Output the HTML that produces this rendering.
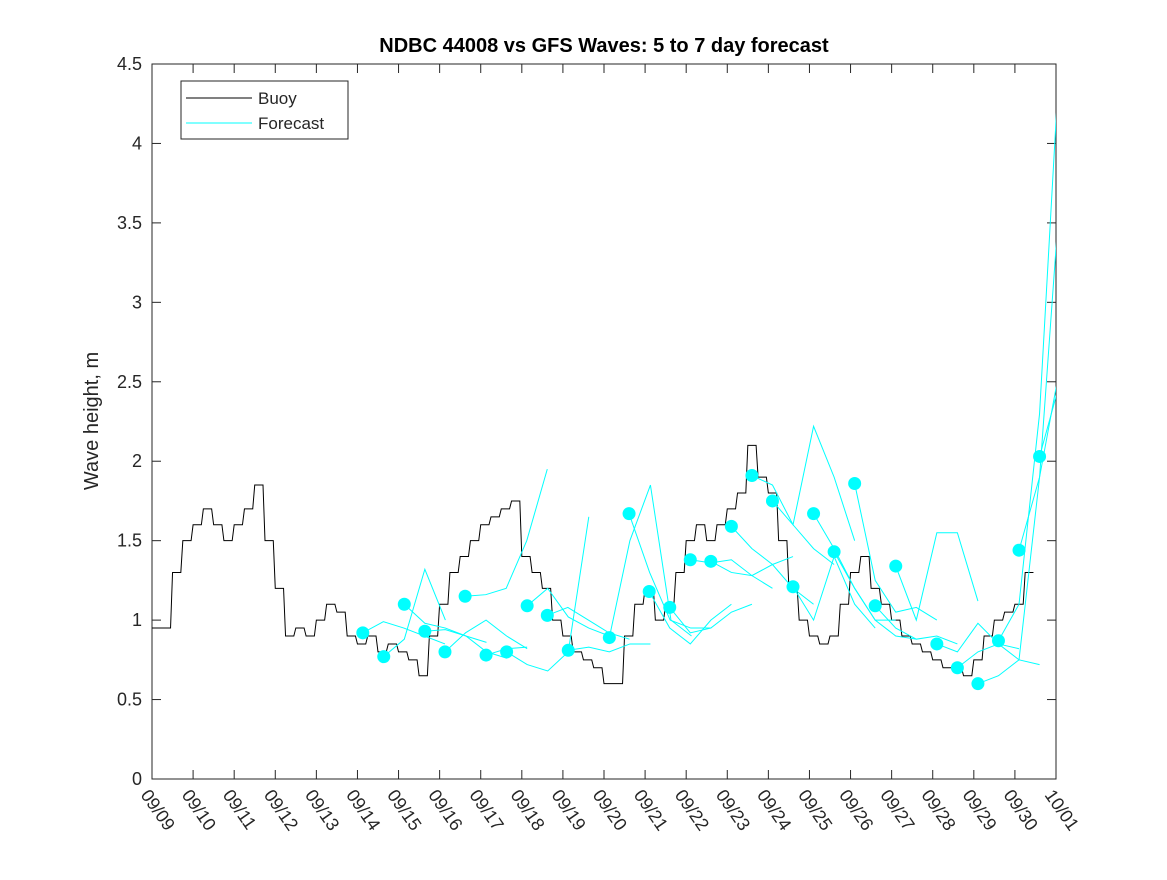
<!DOCTYPE html>
<html><head><meta charset="utf-8"><style>
body{margin:0;background:#fff}
svg text{font-family:"Liberation Sans",sans-serif;fill:#262626}
</style></head><body>
<svg id="chart" width="1167" height="875" xmlns="http://www.w3.org/2000/svg">
<rect width="1167" height="875" fill="#fff"/>
<defs><clipPath id="clip"><rect x="152" y="64" width="904" height="715"/></clipPath></defs>
<text x="604" y="52" text-anchor="middle" font-size="20" font-weight="bold" style="fill:#000">NDBC 44008 vs GFS Waves: 5 to 7 day forecast</text>
<text transform="translate(98,421) rotate(-90)" text-anchor="middle" font-size="20">Wave height, m</text>
<g id="axes"></g>
<g id="plot" clip-path="url(#clip)"></g>
<g>
<rect x="181" y="81" width="167" height="58" fill="#fff" stroke="#262626" stroke-width="1"/>
<line x1="186" y1="98" x2="252" y2="98" stroke="#000"/>
<text x="258" y="104" font-size="17">Buoy</text>
<line x1="186" y1="123" x2="252" y2="123" stroke="#00ffff"/>
<text x="258" y="129" font-size="17">Forecast</text>
</g>
</svg>
<script>
const xTickLabels=["09/09","09/10","09/11","09/12","09/13","09/14","09/15","09/16","09/17","09/18","09/19","09/20","09/21","09/22","09/23","09/24","09/25","09/26","09/27","09/28","09/29","09/30","10/01"];
const yTicks=[0,0.5,1,1.5,2,2.5,3,3.5,4,4.5];
// buoy, 6-hourly from 09/09 00:00
const buoy=[0.95,0.95,1.3,1.5, 1.6,1.7,1.6,1.5, 1.6,1.7,1.85,1.5, 1.2,0.9,0.95,0.9, 1.0,1.1,1.05,0.9,
0.85,0.9,0.8,0.85, 0.8,0.75,0.65,0.9, 1.1,1.3,1.4,1.5, 1.6,1.65,1.7,1.75, 1.4,1.3,1.2,1.0,
0.9,0.8,0.75,0.7, 0.6,0.6,0.9,1.1, 1.2,1.0,1.1,1.3, 1.5,1.6,1.5,1.6, 1.7,1.8,2.1,1.9,
1.8,1.5,1.2,1.0, 0.9,0.85,0.9,1.1, 1.3,1.4,1.2,1.1, 1.0,0.9,0.85,0.8, 0.75,0.7,0.7,0.65,
0.75,0.9,1.0,1.05, 1.1,1.3];
const fcStart=[5.13,5.64,6.14,6.64,7.13,7.62,8.13,8.63,9.13,9.62,10.13,11.13,11.61,12.1,12.6,13.1,13.6,14.1,14.6,15.1,15.6,16.1,16.6,17.1,17.6,18.1,19.1,19.6,20.1,20.6,21.1,21.6];
const fcValues=[[0.92,0.99,0.95,0.9,0.85],[0.77,0.88,1.32,1.0],[1.10,0.98,0.95,0.9,0.86],[0.93,0.94,0.9,0.8,0.76],[0.80,0.92,1.0,0.9,0.82],[1.15,1.16,1.2,1.5,1.95],[0.78,0.82,0.83],[0.80,0.72,0.68,0.8,1.65],[1.09,1.2,1.02,0.95,0.9],[1.03,1.08,1.0,0.92,0.88],[0.81,0.83,0.8,0.85,0.85],[0.89,1.5,1.85,1.0,0.9],[1.67,1.3,1.0,0.95,0.95],[1.18,0.95,0.85,1.0,1.1],[1.08,0.92,0.95,1.05,1.1],[1.38,1.36,1.38,1.28,1.2],[1.37,1.3,1.28,1.35,1.4],[1.59,1.45,1.35,1.2,1.1],[1.91,1.85,1.6,1.45,1.35],[1.75,1.6,2.22,1.9,1.5],[1.21,1.0,1.4,1.1,0.95],[1.67,1.45,1.2,1.0,1.0],[1.43,1.2,1.0,0.9,0.88],[1.86,1.25,1.05,1.08,1.0],[1.09,0.95,0.88,0.9,0.85],[1.34,1.0,1.55,1.55,1.12],[0.85,0.8,0.98,0.85,0.82],[0.70,0.8,0.85,0.75,0.72],[0.60,0.65,0.75,1.9,3.7],[0.87,1.1,2.3,4.6],[1.44,1.9,2.6],[2.03,2.5]];
const NS="http://www.w3.org/2000/svg";
const X0=152,X1=1056,Y0=779,Y1=64;
const xs=d=>X0+d*(X1-X0)/22, ys=v=>Y0-v*(Y0-Y1)/4.5;
function mk(t,a,p){const e=document.createElementNS(NS,t);for(const k in a)e.setAttribute(k,a[k]);p.appendChild(e);return e;}
const axes=document.getElementById('axes'),plot=document.getElementById('plot');
const frame=mk('rect',{x:X0,y:Y1,width:X1-X0,height:Y0-Y1,fill:'none',stroke:'#262626','stroke-width':1},axes);


yTicks.forEach(v=>{const y=ys(v);
mk('line',{x1:X0,y1:y,x2:X0+9,y2:y,stroke:'#262626'},axes);mk('line',{x1:X1,y1:y,x2:X1-9,y2:y,stroke:'#262626'},axes);
const t=mk('text',{x:X0-10,y:y+6,'text-anchor':'end','font-size':18},axes);t.textContent=String(v);

});
xTickLabels.forEach((s,i)=>{const x=xs(i);
mk('line',{x1:x,y1:Y0,x2:x,y2:Y0-9,stroke:'#262626'},axes);mk('line',{x1:x,y1:Y1,x2:x,y2:Y1+9,stroke:'#262626'},axes);
const t=mk('text',{transform:`translate(${x-12},${Y0+16}) rotate(55)`,'font-size':18},axes);t.textContent=s;

});
let pts=[];buoy.forEach((v,i)=>{const x=xs(i*0.25),x2=xs((i+1)*0.25);pts.push(x+','+ys(v));pts.push((x2-2)+','+ys(v));});
const bl=mk('polyline',{points:pts.join(' '),fill:'none',stroke:'#000','stroke-width':1},plot);


fcStart.forEach((d,i)=>{const vals=fcValues[i];
const p=vals.map((v,j)=>xs(d+j*0.5)+','+ys(v)).join(' ');
const l=mk('polyline',{points:p,fill:'none',stroke:'#00ffff','stroke-width':1},plot);


const c=mk('circle',{cx:xs(d),cy:ys(vals[0]),r:6.5,fill:'#00ffff'},plot);

});
</script>
</body></html>
